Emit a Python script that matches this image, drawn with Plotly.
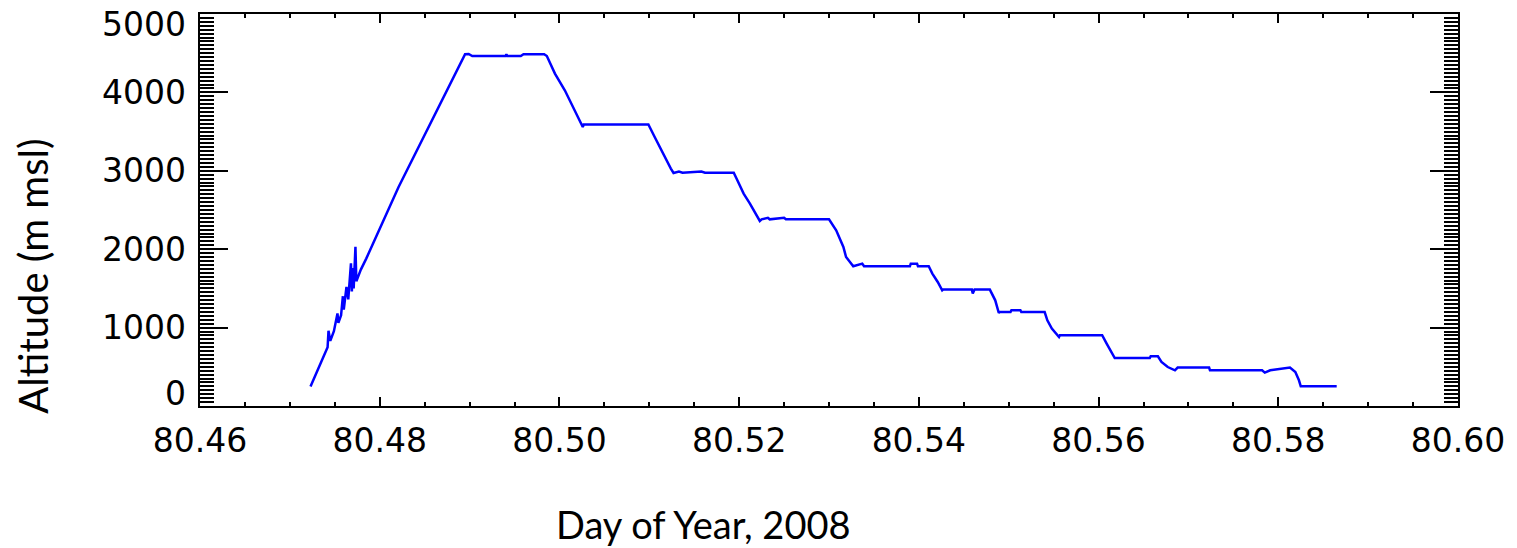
import plotly.graph_objects as go

# Day of year (2008) and altitude (m msl)
day = [
    80.4723, 80.4733, 80.4742, 80.4743, 80.4745, 80.4749, 80.4753, 80.4754,
    80.4757, 80.4759, 80.4760, 80.4763, 80.4765, 80.4768, 80.4769, 80.4770,
    80.4771, 80.4773, 80.4774, 80.4779, 80.4785, 80.4821, 80.4866, 80.4895,
    80.4899, 80.4903, 80.4940, 80.4941, 80.4942, 80.4957, 80.4960, 80.4983,
    80.4986, 80.4995, 80.5006, 80.5017, 80.5023, 80.5026, 80.5027, 80.5099,
    80.5106, 80.5117, 80.5124, 80.5127, 80.5133, 80.5137, 80.5158, 80.5162,
    80.5194, 80.5198, 80.5205, 80.5212, 80.5220, 80.5223, 80.5225, 80.5232,
    80.5234, 80.5250, 80.5252, 80.5300, 80.5308, 80.5316, 80.5319, 80.5327,
    80.5337, 80.5339, 80.5390, 80.5391, 80.5398, 80.5399, 80.5411, 80.5415,
    80.5421, 80.5426, 80.5427, 80.5459, 80.5460, 80.5462, 80.5479, 80.5483,
    80.5485, 80.5489, 80.5490, 80.5502, 80.5503, 80.5513, 80.5514, 80.5540,
    80.5543, 80.5548, 80.5556, 80.5557, 80.5604, 80.5609, 80.5614, 80.5618,
    80.5657, 80.5658, 80.5666, 80.5670, 80.5677, 80.5685, 80.5688, 80.5723,
    80.5724, 80.5782, 80.5785, 80.5791, 80.5813, 80.5819, 80.5823, 80.5825,
    80.5865,
]
altitude = [
    250, 514, 749, 960, 830, 953, 1180, 1060,
    1157, 1400, 1230, 1520, 1361, 1820, 1460, 1760,
    1500, 2030, 1590, 1740, 1880, 2793, 3814, 4486,
    4490, 4464, 4464, 4486, 4464, 4464, 4486, 4486,
    4464, 4240, 4027, 3772, 3619, 3559, 3590, 3590,
    3431, 3176, 3028, 2972, 2990, 2975, 2990, 2975,
    2975, 2879, 2709, 2582, 2432, 2360, 2381, 2400,
    2381, 2400, 2381, 2381, 2241, 2028, 1900, 1782,
    1816, 1782, 1782, 1816, 1816, 1782, 1782, 1689,
    1582, 1476, 1485, 1485, 1437, 1485, 1485, 1390,
    1348, 1186, 1199, 1199, 1221, 1221, 1199, 1199,
    1093, 987, 880, 902, 902, 796, 689, 612,
    612, 634, 634, 561, 497, 455, 490, 490,
    455, 455, 426, 455, 490, 434, 328, 251,
    251,
]

x_ticks = [80.46, 80.48, 80.50, 80.52, 80.54, 80.56, 80.58, 80.60]
x_tick_labels = ["80.46", "80.48", "80.50", "80.52", "80.54", "80.56", "80.58", "80.60"]
y_ticks = [0, 1000, 2000, 3000, 4000, 5000]
y_tick_labels = ["0", "1000", "2000", "3000", "4000", "5000"]

Y_MIN, Y_MAX = 0, 5000
tick_font = dict(family="DejaVu Sans", size=33, color="black")
title_font = dict(family="Lato", size=38, color="black")

fig = go.Figure(
    go.Scatter(
        x=day,
        y=altitude,
        mode="lines",
        line=dict(color="#0000FF", width=2.5),
        showlegend=False,
    )
)

# y tick labels are kept inside the axis range (as the original plotting
# software does): end labels are nudged inward
plot_h_px = 548 - 14 - 142
units_per_px = (Y_MAX - Y_MIN) / plot_h_px
label_pos = [min(max(v, Y_MIN + 13 * units_per_px), Y_MAX - 10 * units_per_px)
             for v in y_ticks]
y_label_annotations = [
    dict(text=t, x=0, xref="paper", xanchor="right", xshift=-12,
         y=p, yref="y", yanchor="middle", showarrow=False, font=tick_font)
    for t, p in zip(y_tick_labels, label_pos)
]

fig.update_layout(
    width=1517,
    height=548,
    margin=dict(l=200, r=51, t=14, b=142),
    paper_bgcolor="white",
    plot_bgcolor="white",
    xaxis=dict(
        range=[80.46, 80.60],
        tickvals=x_ticks,
        ticktext=x_tick_labels,
        ticks="inside",
        ticklen=9,
        tickwidth=2,
        tickcolor="black",
        showline=True,
        linewidth=2,
        linecolor="black",
        mirror="allticks",
        showgrid=False,
        zeroline=False,
        tickfont=tick_font,
        ticklabelstandoff=4,
        minor=dict(tick0=80.46, dtick=0.005, ticks="inside", ticklen=4,
                   tickwidth=2, tickcolor="black", showgrid=False),
    ),
    yaxis=dict(
        range=[Y_MIN, Y_MAX],
        tickvals=y_ticks,
        showticklabels=False,
        ticks="inside",
        ticklen=28,
        tickwidth=2,
        tickcolor="black",
        showline=True,
        linewidth=2,
        linecolor="black",
        mirror="allticks",
        showgrid=False,
        zeroline=False,
        minor=dict(tick0=0, dtick=50, ticks="inside", ticklen=14,
                   tickwidth=2, tickcolor="black", showgrid=False),
    ),
    annotations=y_label_annotations + [
        dict(text="Altitude (m msl)", xref="paper", yref="paper",
             x=-0.1324, y=0.331, xanchor="center", yanchor="middle",
             textangle=-90, showarrow=False,
             font=dict(family="Lato", size=40, color="black")),
        dict(text="Day of Year, 2008", xref="paper", yref="paper",
             x=0.4003, y=-0.302, xanchor="center", yanchor="middle",
             showarrow=False, font=title_font),
    ],
)

fig.write_html("out.html")
